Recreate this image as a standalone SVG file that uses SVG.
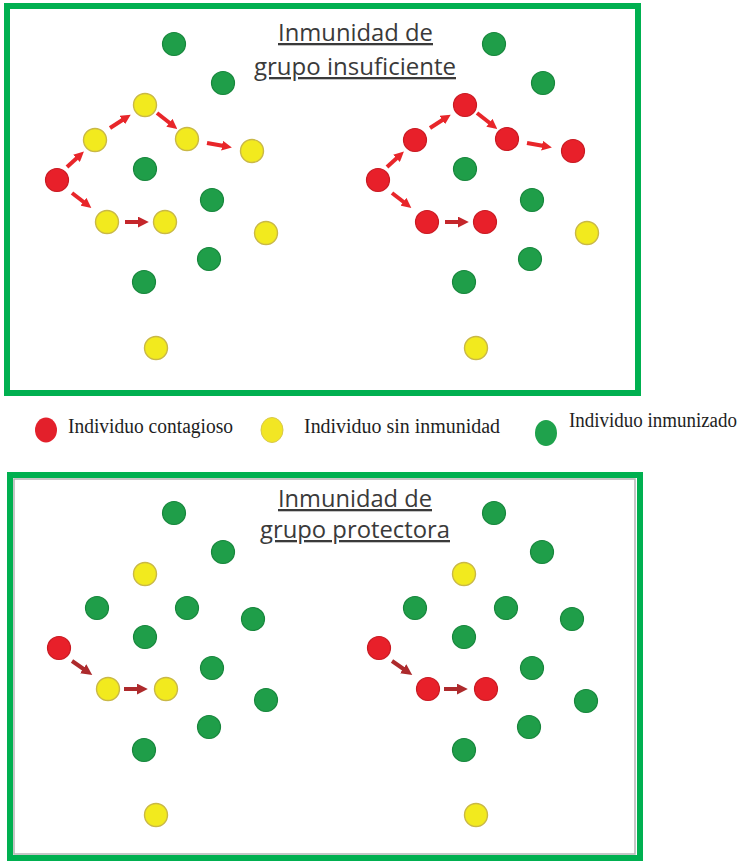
<svg xmlns="http://www.w3.org/2000/svg" width="745" height="861" viewBox="0 0 745 861">
  <defs>
    <style>
      .frame { fill: #ffffff; stroke: #00b050; stroke-width: 6; }
      .inner { fill: none; stroke: #b4b4b4; stroke-width: 1.5; }
      .red { fill: #e8202a; stroke: #c81a22; stroke-width: 1.2; }
      .yel { fill: #f2ea1e; stroke: #c9b847; stroke-width: 1.4; }
      .grn { fill: #1f9e49; stroke: #17863c; stroke-width: 1.2; }
      .title { font-family: "Open Sans", "Liberation Sans", sans-serif; font-size: 23px; fill: #3a3a3a; text-decoration: underline; }
      .legend { font-family: "Liberation Serif", "DejaVu Serif", serif; font-size: 20px; fill: #1e1e1e; }
      .arr { stroke-width: 4; fill: none; stroke-linecap: butt; }
      .a1 { stroke: #e8262a; }
      .a2 { stroke: #c4262b; }
      .a3 { stroke: #ad2a2c; }
    </style>
    <marker id="h1" viewBox="0 0 10 10" refX="2" refY="5" markerWidth="10" markerHeight="10" markerUnits="userSpaceOnUse" orient="auto">
      <path d="M0,0 L10,5 L0,10 Z" fill="#e8262a"/>
    </marker>
    <marker id="h2" viewBox="0 0 10 10" refX="2" refY="5" markerWidth="11" markerHeight="11" markerUnits="userSpaceOnUse" orient="auto">
      <path d="M0,0 L10,5 L0,10 Z" fill="#c4262b"/>
    </marker>
    <marker id="h3" viewBox="0 0 10 10" refX="2" refY="5" markerWidth="11" markerHeight="11" markerUnits="userSpaceOnUse" orient="auto">
      <path d="M0,0 L10,5 L0,10 Z" fill="#ad2a2c"/>
    </marker>
  </defs>

  <rect width="745" height="861" fill="#ffffff"/>

  <!-- Upper panel: insufficient herd immunity -->
  <g id="panel-insuficiente">
    <rect class="frame" x="7" y="6" width="631" height="387"/>
    <text class="title" x="278" y="41" textLength="155" lengthAdjust="spacingAndGlyphs">Inmunidad de</text>
    <text class="title" x="254" y="75" textLength="202" lengthAdjust="spacingAndGlyphs">grupo insuficiente</text>
  </g>

  <!-- Lower panel: protective herd immunity -->
  <g id="panel-protectora">
    <rect class="frame" x="10" y="475" width="630" height="383"/>
    <rect class="inner" x="14" y="479" width="621" height="375"/>
    <text class="title" x="278" y="507" textLength="154" lengthAdjust="spacingAndGlyphs">Inmunidad de</text>
    <text class="title" x="260" y="538" textLength="190" lengthAdjust="spacingAndGlyphs">grupo protectora</text>
  </g>

  <!-- Contagion arrows -->
  <g id="connectors">
    <!-- upper left -->
    <line class="arr a1" x1="67" y1="167" x2="78" y2="157" marker-end="url(#h1)"/>
    <line class="arr a1" x1="110" y1="128" x2="124" y2="119" marker-end="url(#h1)"/>
    <line class="arr a1" x1="157" y1="113" x2="171" y2="124" marker-end="url(#h1)"/>
    <line class="arr a1" x1="207" y1="143" x2="224" y2="146" marker-end="url(#h1)"/>
    <line class="arr a1" x1="72" y1="193" x2="85" y2="203" marker-end="url(#h1)"/>
    <line class="arr a2" x1="125" y1="222" x2="140" y2="222" marker-end="url(#h2)"/>
    <!-- upper right -->
    <line class="arr a1" x1="387" y1="167" x2="398" y2="157" marker-end="url(#h1)"/>
    <line class="arr a1" x1="430" y1="128" x2="444" y2="119" marker-end="url(#h1)"/>
    <line class="arr a1" x1="477" y1="113" x2="491" y2="124" marker-end="url(#h1)"/>
    <line class="arr a1" x1="527" y1="143" x2="544" y2="146" marker-end="url(#h1)"/>
    <line class="arr a1" x1="392" y1="193" x2="405" y2="203" marker-end="url(#h1)"/>
    <line class="arr a2" x1="445" y1="222" x2="460" y2="222" marker-end="url(#h2)"/>
    <!-- lower left -->
    <line class="arr a3" x1="72" y1="661" x2="85" y2="670" marker-end="url(#h3)"/>
    <line class="arr a3" x1="124" y1="689" x2="139" y2="689" marker-end="url(#h3)"/>
    <!-- lower right -->
    <line class="arr a3" x1="392" y1="661" x2="405" y2="670" marker-end="url(#h3)"/>
    <line class="arr a3" x1="444" y1="689" x2="459" y2="689" marker-end="url(#h3)"/>
  </g>

  <!-- Individuals, upper left -->
  <g id="nodes-upper-left">
    <circle class="grn" cx="174" cy="44" r="11.5"/>
    <circle class="grn" cx="223" cy="83" r="11.5"/>
    <circle class="yel" cx="145" cy="105" r="11.5"/>
    <circle class="yel" cx="95" cy="140" r="11.5"/>
    <circle class="yel" cx="187" cy="139" r="11.5"/>
    <circle class="yel" cx="252" cy="151" r="11.5"/>
    <circle class="red" cx="57" cy="180" r="11.5"/>
    <circle class="grn" cx="145" cy="169" r="11.5"/>
    <circle class="grn" cx="212" cy="200" r="11.5"/>
    <circle class="yel" cx="107" cy="222" r="11.5"/>
    <circle class="yel" cx="165" cy="222" r="11.5"/>
    <circle class="yel" cx="266" cy="233" r="11.5"/>
    <circle class="grn" cx="209" cy="259" r="11.5"/>
    <circle class="grn" cx="144" cy="282" r="11.5"/>
    <circle class="yel" cx="156" cy="348" r="11.5"/>
  </g>

  <!-- Individuals, upper right -->
  <g id="nodes-upper-right">
    <circle class="grn" cx="494" cy="44" r="11.5"/>
    <circle class="grn" cx="543" cy="83" r="11.5"/>
    <circle class="red" cx="465" cy="105" r="11.5"/>
    <circle class="red" cx="415" cy="140" r="11.5"/>
    <circle class="red" cx="507" cy="139" r="11.5"/>
    <circle class="red" cx="573" cy="151" r="11.5"/>
    <circle class="red" cx="378" cy="180" r="11.5"/>
    <circle class="grn" cx="465" cy="169" r="11.5"/>
    <circle class="grn" cx="532" cy="200" r="11.5"/>
    <circle class="red" cx="427" cy="222" r="11.5"/>
    <circle class="red" cx="485" cy="222" r="11.5"/>
    <circle class="yel" cx="587" cy="233" r="11.5"/>
    <circle class="grn" cx="530" cy="259" r="11.5"/>
    <circle class="grn" cx="464" cy="282" r="11.5"/>
    <circle class="yel" cx="476" cy="348" r="11.5"/>
  </g>

  <!-- Individuals, lower left -->
  <g id="nodes-lower-left">
    <circle class="grn" cx="174" cy="513" r="11.5"/>
    <circle class="grn" cx="223" cy="552" r="11.5"/>
    <circle class="yel" cx="145" cy="574" r="11.5"/>
    <circle class="grn" cx="97" cy="608" r="11.5"/>
    <circle class="grn" cx="187" cy="608" r="11.5"/>
    <circle class="grn" cx="253" cy="619" r="11.5"/>
    <circle class="grn" cx="145" cy="637" r="11.5"/>
    <circle class="red" cx="59" cy="648" r="11.5"/>
    <circle class="grn" cx="212" cy="668" r="11.5"/>
    <circle class="yel" cx="108" cy="689" r="11.5"/>
    <circle class="yel" cx="166" cy="689" r="11.5"/>
    <circle class="grn" cx="266" cy="700" r="11.5"/>
    <circle class="grn" cx="209" cy="727" r="11.5"/>
    <circle class="grn" cx="144" cy="750" r="11.5"/>
    <circle class="yel" cx="156" cy="815" r="11.5"/>
  </g>

  <!-- Individuals, lower right -->
  <g id="nodes-lower-right">
    <circle class="grn" cx="494" cy="513" r="11.5"/>
    <circle class="grn" cx="542" cy="552" r="11.5"/>
    <circle class="yel" cx="464" cy="574" r="11.5"/>
    <circle class="grn" cx="415" cy="608" r="11.5"/>
    <circle class="grn" cx="506" cy="608" r="11.5"/>
    <circle class="grn" cx="572" cy="619" r="11.5"/>
    <circle class="grn" cx="464" cy="637" r="11.5"/>
    <circle class="red" cx="379" cy="648" r="11.5"/>
    <circle class="grn" cx="532" cy="668" r="11.5"/>
    <circle class="red" cx="428" cy="689" r="11.5"/>
    <circle class="red" cx="486" cy="689" r="11.5"/>
    <circle class="grn" cx="586" cy="701" r="11.5"/>
    <circle class="grn" cx="529" cy="727" r="11.5"/>
    <circle class="grn" cx="464" cy="750" r="11.5"/>
    <circle class="yel" cx="476" cy="815" r="11.5"/>
  </g>

  <!-- Legend -->
  <g id="legend-contagioso">
    <ellipse cx="46" cy="430" rx="11" ry="12.5" fill="#e3202b"/>
    <text class="legend" x="68" y="433" textLength="165" lengthAdjust="spacingAndGlyphs">Individuo contagioso</text>
  </g>
  <g id="legend-sin-inmunidad">
    <ellipse cx="272" cy="430" rx="11" ry="12.5" fill="#f2e624" stroke="#d8c84a" stroke-width="1"/>
    <text class="legend" x="304" y="433" textLength="196" lengthAdjust="spacingAndGlyphs">Individuo sin inmunidad</text>
  </g>
  <g id="legend-inmunizado">
    <ellipse cx="546" cy="433" rx="11" ry="13" fill="#1fa24c"/>
    <text class="legend" x="569" y="427" textLength="168" lengthAdjust="spacingAndGlyphs">Individuo inmunizado</text>
  </g>
</svg>
